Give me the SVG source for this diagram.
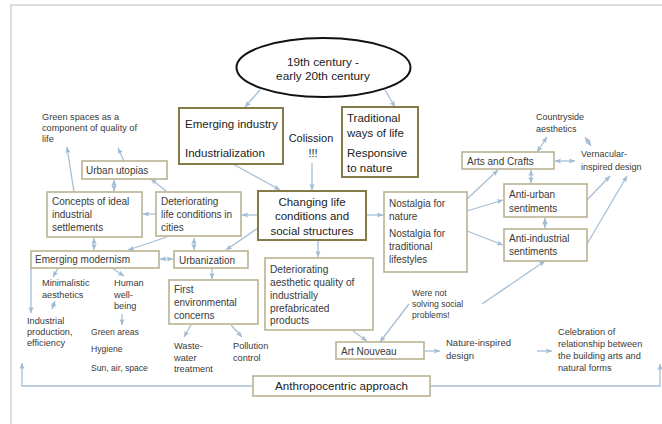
<svg xmlns="http://www.w3.org/2000/svg" width="662" height="424" viewBox="0 0 662 424">
<defs>
<marker id="ah" markerUnits="userSpaceOnUse" markerWidth="7" markerHeight="6" refX="6" refY="3" orient="auto-start-reverse">
<path d="M0,0.4 L6,3 L0,5.6 L1.3,3 z" fill="#9fbad3"/>
</marker>
<style>
.c{fill:none;stroke:#a7bfd6;stroke-width:1.3;marker-end:url(#ah)}
.d{fill:none;stroke:#a7bfd6;stroke-width:1.3;marker-start:url(#ah);marker-end:url(#ah)}
.bm{fill:#fff;stroke:#857b48;stroke-width:2}
.bs{fill:#fff;stroke:#bab291;stroke-width:1.6}
text{font-family:"Liberation Sans",Arial,sans-serif;fill:#3a3a3a}
.t12{font-size:11.5px;fill:#222}
.t10{font-size:10px}
.t9{font-size:9.2px}
.t8{font-size:8.6px}
</style>
</defs>
<rect width="662" height="424" fill="#fff"/>
<path d="M11,424 V5 H662" fill="none" stroke="#dcdcdc" stroke-width="2"/>

<g id="connectors">
<line class="c" x1="260" y1="90" x2="245" y2="107"/>
<line class="c" x1="385" y1="90" x2="395" y2="107"/>
<line class="c" x1="233" y1="164" x2="280" y2="190"/>
<line class="c" x1="312" y1="163" x2="312" y2="190"/>
<line class="c" x1="258" y1="215" x2="242" y2="215"/>
<line class="c" x1="258" y1="228" x2="226" y2="250"/>
<line class="c" x1="366" y1="215" x2="383" y2="215"/>
<line class="c" x1="318" y1="240" x2="318" y2="257"/>
<line class="c" x1="156" y1="214" x2="143" y2="214"/>
<line class="c" x1="167" y1="237" x2="128" y2="250"/>
<line class="d" x1="194" y1="238" x2="194" y2="250"/>
<line class="d" x1="94" y1="238" x2="94" y2="250"/>
<line class="d" x1="114" y1="180" x2="114" y2="191"/>
<line class="c" x1="166" y1="191" x2="151" y2="179"/>
<line class="c" x1="124" y1="161" x2="118" y2="148"/>
<line class="c" x1="74" y1="192" x2="67" y2="147"/>
<line class="d" x1="160" y1="259" x2="173" y2="259"/>
<line class="c" x1="212" y1="268" x2="212" y2="279"/>
<line class="c" x1="191" y1="325" x2="184" y2="337"/>
<line class="c" x1="231" y1="325" x2="242" y2="337"/>
<line class="c" x1="58" y1="268" x2="53" y2="277"/>
<line class="c" x1="112" y1="268" x2="124" y2="276"/>
<line class="d" x1="55" y1="301" x2="52" y2="309"/>
<line class="c" x1="31" y1="268" x2="31" y2="313"/>
<line class="c" x1="122" y1="314" x2="122" y2="325"/>
<line class="c" x1="353" y1="331" x2="367" y2="341"/>
<line class="c" x1="409" y1="304" x2="380" y2="342"/>
<line class="c" x1="425" y1="351" x2="440" y2="351"/>
<line class="c" x1="537" y1="351" x2="552" y2="351"/>
<line class="c" x1="482" y1="304" x2="545" y2="261"/>
<line class="c" x1="467" y1="199" x2="498" y2="170"/>
<line class="c" x1="467" y1="211" x2="503" y2="200"/>
<line class="c" x1="467" y1="231" x2="503" y2="245"/>
<line class="c" x1="587" y1="200" x2="610" y2="176"/>
<line class="c" x1="587" y1="244" x2="627" y2="176"/>
<line class="d" x1="531" y1="170" x2="531" y2="183"/>
<line class="d" x1="545" y1="218" x2="545" y2="228"/>
<line class="d" x1="555" y1="161" x2="575" y2="161"/>
<line class="d" x1="537" y1="152" x2="547" y2="137"/>
<line class="d" x1="585" y1="137" x2="591" y2="146"/>
<polyline class="c" points="253,386 22,386 22,363"/>
<polyline class="c" points="430,386 660,386 660,364"/>
</g>

<g id="era">
<ellipse cx="323.5" cy="67.5" rx="87" ry="29.5" fill="#fff" stroke="#111" stroke-width="2"/>
<text class="t12" x="323" y="66" text-anchor="middle" style="font-size:11.8px">19th century -</text>
<text class="t12" x="323" y="80" text-anchor="middle" style="font-size:11.8px">early 20th century</text>
</g>

<g id="emerging-industry">
<rect class="bm" x="179" y="108" width="104" height="56"/>
<text class="t12" x="185" y="128">Emerging industry</text>
<text class="t12" x="185" y="157">Industrialization</text>
</g>

<g id="traditional">
<rect class="bm" x="342" y="107" width="76" height="70"/>
<text class="t12" x="347" y="122">Traditional</text>
<text class="t12" x="347" y="137">ways of life</text>
<text class="t12" x="347" y="157">Responsive</text>
<text class="t12" x="347" y="172">to nature</text>
</g>

<g id="collision">
<text class="t12" x="311" y="142" text-anchor="middle" style="font-size:11px">Colission</text>
<text class="t12" x="313" y="157" text-anchor="middle" style="font-size:11px">!!!</text>
</g>

<g id="changing">
<rect class="bm" x="258" y="191" width="108" height="49"/>
<text class="t12" x="312" y="206" text-anchor="middle">Changing life</text>
<text class="t12" x="312" y="220" text-anchor="middle">conditions and</text>
<text class="t12" x="312" y="235" text-anchor="middle">social structures</text>
</g>

<g id="nostalgia">
<rect class="bs" x="384" y="192" width="83" height="80"/>
<text class="t10" x="389" y="206.5">Nostalgia for</text>
<text class="t10" x="389" y="219.5">nature</text>
<text class="t10" x="389" y="236.5">Nostalgia for</text>
<text class="t10" x="389" y="249.5">traditional</text>
<text class="t10" x="389" y="262.5">lifestyles</text>
</g>

<g id="arts-crafts">
<rect class="bs" x="462" y="152" width="92" height="17"/>
<text class="t10" x="467" y="164.5">Arts and Crafts</text>
</g>

<g id="anti-urban">
<rect class="bs" x="504" y="184" width="83" height="33"/>
<text class="t10" x="509" y="197.5">Anti-urban</text>
<text class="t10" x="509" y="211.5">sentiments</text>
</g>

<g id="anti-industrial">
<rect class="bs" x="504" y="229" width="83" height="32"/>
<text class="t10" x="509" y="241.5">Anti-industrial</text>
<text class="t10" x="509" y="254.5">sentiments</text>
</g>

<g id="countryside">
<text class="t9" x="536" y="120" style="font-size:9px">Countryside</text>
<text class="t9" x="536" y="132" style="font-size:9px">aesthetics</text>
</g>

<g id="vernacular">
<text class="t9" x="581" y="157" style="font-size:9px">Vernacular-</text>
<text class="t9" x="581" y="170" style="font-size:9px">inspired design</text>
</g>

<g id="not-solving">
<text class="t8" x="412" y="296">Were not</text>
<text class="t8" x="412" y="307">solving social</text>
<text class="t8" x="412" y="318">problems!</text>
</g>

<g id="art-nouveau">
<rect class="bs" x="336" y="342" width="88" height="17"/>
<text class="t10" x="341" y="354.5">Art Nouveau</text>
</g>

<g id="nature-inspired">
<text class="t9" x="446" y="346" style="font-size:9.5px">Nature-inspired</text>
<text class="t9" x="446" y="359" style="font-size:9.5px">design</text>
</g>

<g id="celebration">
<text class="t9" x="558" y="335">Celebration of</text>
<text class="t9" x="558" y="347">relationship between</text>
<text class="t9" x="558" y="359">the building arts and</text>
<text class="t9" x="558" y="371">natural forms</text>
</g>

<g id="anthropocentric">
<rect class="bs" x="253" y="376" width="177" height="20"/>
<text class="t12" x="341.5" y="390" text-anchor="middle" style="font-size:11.6px">Anthropocentric approach</text>
</g>

<g id="deteriorating-aesthetic">
<rect class="bs" x="265" y="258" width="108" height="72"/>
<text class="t10" x="270" y="272.5" style="font-size:10.2px">Deteriorating</text>
<text class="t10" x="270" y="285.5" style="font-size:10.2px">aesthetic quality of</text>
<text class="t10" x="270" y="298.5" style="font-size:10.2px">industrially</text>
<text class="t10" x="270" y="311.5" style="font-size:10.2px">prefabricated</text>
<text class="t10" x="270" y="323.5" style="font-size:10.2px">products</text>
</g>

<g id="first-env">
<rect class="bs" x="169" y="280" width="89" height="44"/>
<text class="t10" x="174" y="292.5">First</text>
<text class="t10" x="174" y="305.5">environmental</text>
<text class="t10" x="174" y="318.5">concerns</text>
</g>

<g id="waste-water">
<text class="t9" x="174" y="349">Waste-</text>
<text class="t9" x="174" y="361">water</text>
<text class="t9" x="174" y="372">treatment</text>
</g>

<g id="pollution">
<text class="t9" x="233" y="349">Pollution</text>
<text class="t9" x="233" y="361">control</text>
</g>

<g id="urbanization">
<rect class="bs" x="174" y="251" width="74" height="17"/>
<text class="t10" x="179" y="263.5">Urbanization</text>
</g>

<g id="emerging-modernism">
<rect class="bs" x="31" y="251" width="128" height="17"/>
<text class="t10" x="35" y="262.5">Emerging modernism</text>
</g>

<g id="minimalistic">
<text class="t9" x="42" y="286">Minimalistic</text>
<text class="t9" x="42" y="298">aesthetics</text>
</g>

<g id="human">
<text class="t9" x="114" y="286">Human</text>
<text class="t9" x="114" y="298">well-</text>
<text class="t9" x="114" y="309">being</text>
</g>

<g id="industrial-production">
<text class="t9" x="27" y="324">Industrial</text>
<text class="t9" x="27" y="335">production,</text>
<text class="t9" x="27" y="346">efficiency</text>
</g>

<g id="green-areas">
<text class="t9" x="91" y="335" style="font-size:8.6px">Green areas</text>
<text class="t9" x="91" y="352" style="font-size:8.6px">Hygiene</text>
<text class="t9" x="91" y="371" style="font-size:8.6px">Sun, air, space</text>
</g>

<g id="concepts">
<rect class="bs" x="47" y="192" width="95" height="45"/>
<text class="t10" x="52" y="204.5">Concepts of ideal</text>
<text class="t10" x="52" y="217.5">industrial</text>
<text class="t10" x="52" y="230.5">settlements</text>
</g>

<g id="deteriorating-life">
<rect class="bs" x="156" y="192" width="85" height="44"/>
<text class="t10" x="161" y="204.5">Deteriorating</text>
<text class="t10" x="161" y="217.5">life conditions in</text>
<text class="t10" x="161" y="230.5">cities</text>
</g>

<g id="urban-utopias">
<rect class="bs" x="82" y="161" width="85" height="18"/>
<text class="t10" x="86" y="173.5">Urban utopias</text>
</g>

<g id="green-spaces">
<text class="t9" x="42" y="120">Green spaces as a</text>
<text class="t9" x="42" y="131">component of quality of</text>
<text class="t9" x="42" y="142">life</text>
</g>
</svg>
